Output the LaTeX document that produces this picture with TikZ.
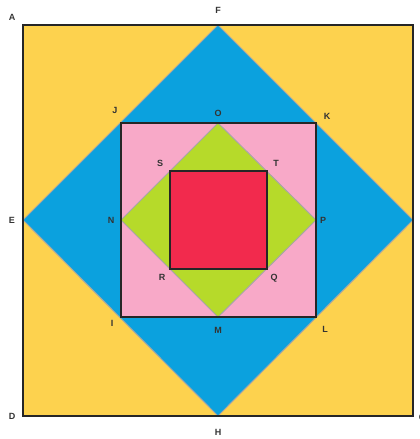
\documentclass[tikz,border=0pt]{standalone}
\usepackage{fontspec}
\setmainfont{Liberation Sans}
\begin{document}
\begin{tikzpicture}[x=1pt,y=-1pt,
  lbl/.style={font=\bfseries\fontsize{9}{10}\selectfont, text=black!80, inner sep=0pt},
  edge/.style={draw=black!85, line width=1.4pt},
  diag/.style={draw=gray!70, line width=1pt}]
\definecolor{cyel}{HTML}{FDD24E}
\definecolor{cblue}{HTML}{0BA1DE}
\definecolor{cpink}{HTML}{F8A9C8}
\definecolor{cgreen}{HTML}{B6DA2A}
\definecolor{cred}{HTML}{F22A4D}
\useasboundingbox (0,0) rectangle (420,439);
\clip (0,0) rectangle (420,439);
% coordinates
\coordinate (A) at (23,25);
\coordinate (B) at (413,25);
\coordinate (C) at (413,416);
\coordinate (D) at (23,416);
\coordinate (F) at (218,25);
\coordinate (G) at (413,220);
\coordinate (H) at (218,416);
\coordinate (E) at (23,220);
\coordinate (J) at (121,123);
\coordinate (K) at (316,123);
\coordinate (L) at (316,317);
\coordinate (I) at (121,317);
\coordinate (O) at (218,123);
\coordinate (P) at (316,220);
\coordinate (M) at (218,317);
\coordinate (N) at (121,220);
\coordinate (S) at (170,171);
\coordinate (T) at (267,171);
\coordinate (Q) at (267,269);
\coordinate (R) at (170,269);
% fills
\fill[cyel] (A) -- (B) -- (C) -- (D) -- cycle;
\fill[cblue] (F) -- (G) -- (H) -- (E) -- cycle;
\draw[diag] (F) -- (G) -- (H) -- (E) -- cycle;
\fill[cpink] (J) -- (K) -- (L) -- (I) -- cycle;
\fill[cgreen] (O) -- (P) -- (M) -- (N) -- cycle;
\draw[diag] (O) -- (P) -- (M) -- (N) -- cycle;
\fill[cred] (S) -- (T) -- (Q) -- (R) -- cycle;
% outlines
\draw[edge] (A) -- (B) -- (C) -- (D) -- cycle;
\draw[edge] (J) -- (K) -- (L) -- (I) -- cycle;
\draw[edge] (S) -- (T) -- (Q) -- (R) -- cycle;
% labels
\node[lbl] (lA) at (12,17) {A};
\node[lbl] (lF) at (218,10) {F};
\node[lbl] (lJ) at (115,110) {J};
\node[lbl] (lK) at (327,116) {K};
\node[lbl] (lE) at (12,220) {E};
\node[lbl] (lN) at (111,220) {N};
\node[lbl] (lO) at (218,113) {O};
\node[lbl] (lS) at (160,163) {S};
\node[lbl] (lT) at (276,163) {T};
\node[lbl] (lP) at (323,220) {P};
\node[lbl] (lR) at (162,277) {R};
\node[lbl] (lQ) at (274,278) {Q};
\node[lbl] (lM) at (218,330) {M};
\node[lbl] (lI) at (112,323) {I};
\node[lbl] (lL) at (325,329) {L};
\node[lbl] (lD) at (12,416) {D};
\node[lbl] (lH) at (218,432) {H};
\node[lbl] (lC) at (422,417) {C};
\end{tikzpicture}
\end{document}
